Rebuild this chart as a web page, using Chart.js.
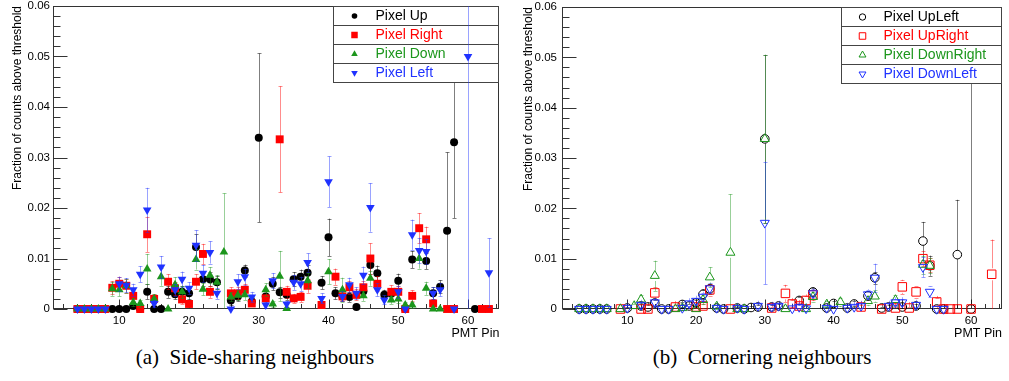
<!DOCTYPE html>
<html>
<head>
<meta charset="utf-8">
<script src="https://cdn.jsdelivr.net/npm/chart.js@4.4.1/dist/chart.umd.min.js"></script>
<style>
  body { margin: 0; background: #fff; }
  #wrap { position: relative; width: 1009px; height: 381px; overflow: hidden; background: #fff; }
  .pane { position: absolute; top: 0; height: 345px; }
  .cap { position: absolute; top: 345px; font-family: 'Liberation Serif', 'Times New Roman', serif; font-size: 21px; white-space: pre; transform: translateX(-50%); color: #000; }
</style>
</head>
<body>
<div id="wrap">
  <div class="pane" style="left:0;width:505px"><canvas id="side" width="505" height="345"></canvas></div>
  <div class="pane" style="left:505px;width:504px"><canvas id="corner" width="504" height="345"></canvas></div>
  <div class="cap" style="left:255px">(a)  Side-sharing neighbours</div>
  <div class="cap" style="left:762px">(b)  Cornering neighbours</div>
</div>
<script>
// ===== axes =====
const xTitle = 'PMT Pin';
const yTitle = 'Fraction of counts above threshold';
const xTicks = [10, 20, 30, 40, 50, 60];
const yTicks = [0, 0.01, 0.02, 0.03, 0.04, 0.05, 0.06];
const yTickLabels = ['0', '0.01', '0.02', '0.03', '0.04', '0.05', '0.06'];

// ===== (a) side-sharing neighbours =====
const sideUpPins = [4,5,6,7,8,9,10,11,12,13,14,15,16,17,18,19,20,21,22,23,24,26,27,28,29,30,31,32,33,34,35,36,37,39,40,41,42,43,44,45,46,47,48,49,50,51,52,54,55,56,57,58,61];
const sideUpVals = [0,0,0,0,0,0,0,0,0.0006,0,0.0034,0,0,0.0034,0.0029,0.0034,0.0031,0.0123,0.0059,0.0059,0.0053,
  0.0017,0.0025,0.0076,0.0015,0.0339,0.0025,0.0050,0.0033,0.0028,0.0059,0.0064,0.0072,
  0.0052,0.0142,0.0031,0.0025,0.0024,0.0004,0.0035,0.0087,0.0071,0.0028,0.0030,0.0056,0,0.0098,
  0.0095,0.0031,0.0044,0.0155,0.0330,0];
const sideUpErrs = [0,0,0,0,0,0,0,0,0.0004,0,0.0015,0,0,0.0012,0.0010,0.0012,0.0011,0.0025,0.0014,0.0014,0.0013,
  0.0009,0.0010,0.0012,0.0008,0.0167,0.0010,0.0013,0.0011,0.0010,0.0014,0.0014,0.0015,
  0.0013,0.0037,0.0012,0.0010,0.0010,0.0004,0.0012,0.0017,0.0015,0.0010,0.0011,0.0014,0,0.0017,
  0.0016,0.0012,0.0013,0.0155,0.0150,0];

const sideRightPins = [4,5,6,7,8,9,10,11,12,13,14,15,17,18,19,20,21,22,23,26,27,28,29,31,33,34,35,36,37,39,41,42,43,44,45,46,47,49,50,51,52,53,54,55,57,58,62,63];
const sideRightVals = [0,0,0,0,0,0.0042,0.0050,0.0046,0.0026,0,0.0148,0.0020,
  0.0054,0.0041,0.0019,0.0010,0.0054,0.0109,0.0034,
  0.0031,0.0031,0.0038,0.0011,0.0021,
  0.0336,0.0034,0.0021,0.0024,0.0046,0.0008,
  0.0064,0.0025,0.0043,0.0028,0.0043,0.0100,0.0050,
  0.0034,0.0034,0,0.0026,0.0160,0.0138,0.0011,0,0,0,0];
const sideRightErrs = [0,0,0,0,0,0.0013,0.0014,0.0014,0.0010,0,0.0035,0.0009,
  0.0015,0.0013,0.0009,0.0006,0.0015,0.0020,0.0012,
  0.0012,0.0012,0.0012,0.0006,0.0009,
  0.0105,0.0012,0.0009,0.0010,0.0014,0.0005,
  0.0016,0.0010,0.0013,0.0011,0.0013,0.0030,0.0015,
  0.0013,0.0012,0,0.0011,0.0030,0.0025,0.0006,0,0,0,0];

const sideDownPins = [4,5,6,7,8,9,10,11,12,13,14,15,16,17,18,19,21,22,23,24,25,26,27,28,31,32,33,34,37,40,42,45,46,49,50,51,52,53,54,55,56];
const sideDownVals = [0,0,0,0,0,0.0040,0.0038,0.0046,0.0013,0.0011,0.0079,0.0020,0.0064,0,0.0048,0.0034,
  0.0098,0.0039,0.0067,0.0053,0.0113,0.0024,0.0027,0.0028,
  0.0038,0.0010,0.0065,0.0001,0.0056,0.0074,0.0038,0.0026,0.0061,
  0.0018,0.0020,0.0008,0.0008,0.0100,0.0041,0,0];
const sideDownErrs = [0,0,0,0,0,0.0014,0.0013,0.0014,0.0008,0.0007,0.0030,0.0009,0.0018,0,0.0015,0.0012,
  0.0020,0.0012,0.0016,0.0014,0.0116,0.0009,0.0010,0.0010,
  0.0013,0.0006,0.0050,0.0003,0.0015,0.0025,0.0024,0.0010,0.0015,
  0.0008,0.0009,0.0006,0.0006,0.0020,0.0013,0,0];

const sideLeftPins = [4,5,6,7,8,10,11,12,13,14,15,16,18,19,20,21,22,23,24,26,27,28,29,31,32,34,35,36,37,39,40,42,43,44,45,46,47,48,50,51,52,53,54,55,56,58,60,63];
const sideLeftVals = [0,0,0,0,0,0.0050,0.0047,0.0038,0.0069,0.0196,0.0011,0.0083,
  0.0038,0.0059,0.0041,0.0126,0.0071,0.0112,0.0031,
  0,0.0054,0.0064,0.0024,0.0008,0.0056,
  0.0010,0.0053,0.0050,0.0092,0.0021,0.0252,
  0.0025,0.0048,0.0031,0.0067,0.0201,0.0038,0.0018,
  0.0034,0,0.0147,0.0116,0.0114,0.0031,0.0038,0,0.0500,0.0072];
const sideLeftErrs = [0,0,0,0,0,0.0014,0.0014,0.0012,0.0016,0.0044,0.0007,0.0022,
  0.0012,0.0015,0.0012,0.0030,0.0017,0.0022,0.0011,
  0,0.0015,0.0016,0.0010,0.0006,0.0015,
  0.0006,0.0015,0.0014,0.0018,0.0010,0.0050,
  0.0010,0.0014,0.0012,0.0017,0.0048,0.0013,0.0009,
  0.0012,0,0.0030,0.0025,0.0025,0.0012,0.0013,0,0.0500,0.0068];

// ===== (b) cornering neighbours =====
const cornerUpLeftPins = [3,4,5,6,7,10,12,13,14,15,16,18,19,20,21,22,23,24,26,27,28,29,30,31,32,35,37,39,40,42,43,45,46,47,48,50,52,53,54,55,56,58,60];
const cornerUpLeftVals = [0,0,0,0,0,0.0002,0.0006,0.0004,0.0012,0,0,
  0.0009,0.0006,0.0012,0.0029,0.0040,0.0002,0,
  0.0002,0,0.0003,0.0004,0.0338,0.0004,0.0006,
  0.0017,0.0034,0.0002,0.0011,0.0002,0.0010,
  0.0026,0.0062,0.0002,0.0004,0.0004,
  0.0006,0.0135,0.0086,0,0,0.0108,0];
const cornerUpLeftErrs = [0,0,0,0,0,0.0002,0.0004,0.0003,0.0006,0,0,
  0.0005,0.0004,0.0006,0.0010,0.0010,0.0002,0,
  0.0002,0,0.0002,0.0003,0.0167,0.0003,0.0004,
  0.0007,0.0008,0.0002,0.0005,0.0002,0.0005,
  0.0009,0.0012,0.0002,0.0003,0.0003,
  0.0004,0.0038,0.0020,0,0,0.0109,0.0700];

const cornerUpRightPins = [9,12,13,14,17,20,21,22,25,31,33,34,35,36,37,44,47,49,50,51,52,53,54,55,56,57,58,60,63];
const cornerUpRightVals = [0,0,0,0.0032,0.0004,0.0004,0.0006,0.0038,0,
  0.0002,0.0031,0.0010,0.0006,0.0017,0.0028,
  0.0004,0,0.0002,0.0044,0.0002,0.0034,0.0100,0.0087,0.0014,0,0,0,0,0.0069];
const cornerUpRightErrs = [0,0,0,0.0012,0.0003,0.0003,0.0004,0.0012,0,
  0.0002,0.0017,0.0007,0.0005,0.0009,0.0010,
  0.0003,0,0.0002,0.0014,0.0002,0.0012,0.0015,0.0014,0.0008,0,0,0,0,0.0069];

const cornerDownRightPins = [3,4,5,6,7,9,11,12,14,17,18,20,21,22,23,25,26,27,30,33,36,37,39,41,45,46,49,53,54];
const cornerDownRightVals = [0,0,0,0,0,0,0.0006,0.0019,0.0066,
  0,0.0002,0,0.0018,0.0063,0.0005,0.0112,0,0,
  0.0338,0,0,0.0024,0.0009,0.0014,0.0016,0.0025,0.0018,0.0088,0.0086];
const cornerDownRightErrs = [0,0,0,0,0,0,0.0004,0.0008,0.0030,
  0,0.0002,0,0.0009,0.0020,0.0003,0.0116,0,0,
  0.0167,0,0,0.0010,0.0006,0.0008,0.0009,0.0012,0.0010,0.0018,0.0015];

const cornerDownLeftPins = [3,4,5,6,7,10,12,14,15,16,18,19,20,21,22,23,24,26,27,29,30,31,32,34,35,36,37,39,40,42,43,44,45,46,48,49,50,52,53,54,55,56];
const cornerDownLeftVals = [0,0,0,0,0,0.0002,0.0008,0.0013,0,0,
  0.0002,0.0011,0.0016,0.0024,0.0041,0.0002,0,
  0.0002,0,0.0006,0.0171,0.0004,0.0006,
  0.0001,0.0004,0.0001,0.0031,0.0002,0,
  0.0002,0.0004,0.0006,0.0029,0.0062,
  0.0006,0.0013,0.0013,0.0008,0.0083,0.0034,0,0];
const cornerDownLeftErrs = [0,0,0,0,0,0.0002,0.0004,0.0006,0,0,
  0.0002,0.0005,0.0006,0.0008,0.0010,0.0002,0,
  0.0002,0,0.0004,0.0122,0.0003,0.0004,
  0.0001,0.0003,0.0001,0.0008,0.0002,0,
  0.0002,0.0003,0.0004,0.0009,0.0028,
  0.0004,0.0006,0.0006,0.0005,0.0020,0.0011,0,0];

// ===== colours =====
const BLACK = '#000000', RED = '#ff0000', GREEN = '#1c961c', BLUE = '#1f32ff';

Chart.defaults.font.family = "'Liberation Sans', Arial, Helvetica, sans-serif";
Chart.defaults.color = '#000';

function points(pins, vals, errs) {
  return pins.map((p, i) => ({ x: p, y: vals[i], e: errs[i] }));
}

function serie(label, pins, vals, errs, st) {
  return {
    label: label,
    data: points(pins, vals, errs),
    showLine: false,
    pointStyle: st.style,
    rotation: st.rot || 0,
    pointRadius: st.r,
    pointHoverRadius: st.r,
    pointBackgroundColor: st.hollow ? 'rgba(0,0,0,0)' : st.color,
    pointBorderColor: st.color,
    pointBorderWidth: st.hollow ? 1 : 0,
    color: st.color,
    barColor: st.bar,
    gap: st.hollow ? st.r : 0,
    hollow: !!st.hollow,
    legendR: st.lr,
    order: st.order,
    clip: 10
  };
}

// ===== legenda dentro do gráfico =====
function drawLegend(chart, opts) {
  const { ctx, chartArea: a } = chart;
  const x0 = opts.left + 0.5, x1 = Math.round(a.right) - 0.5, rowH = 19;
  const top = Math.round(a.top) + 0.5;
  ctx.save();
  ctx.font = "14px 'Liberation Sans', Arial, sans-serif";
  ctx.textBaseline = 'middle';
  ctx.lineWidth = 1;
  chart.data.datasets.forEach((ds, i) => {
    const y0 = top + i * rowH;
    ctx.fillStyle = '#fff';
    ctx.fillRect(x0, y0, x1 - x0, rowH);
    ctx.strokeStyle = '#444';
    ctx.strokeRect(x0, y0, x1 - x0, rowH);
    const my = y0 + rowH / 2;
    ctx.fillStyle = ds.hollow ? 'rgba(0,0,0,0)' : ds.color;
    ctx.strokeStyle = ds.color;
    Chart.helpers.drawPoint(ctx, { pointStyle: ds.pointStyle, rotation: ds.rotation, radius: ds.legendR, borderWidth: ds.hollow ? 1 : 0 }, x0 + 21, my);
    ctx.fillStyle = ds.color;
    ctx.fillText(ds.label, x0 + 42, my + 0.5);
  });
  ctx.restore();
}

// ===== barras de erro (desenhadas antes dos marcadores de cada série) =====
const errorBars = {
  id: 'errorBars',
  beforeDatasetDraw(chart, args, opts) {
    if (opts.legendBefore === args.index) drawLegend(chart, opts);
    const ds = chart.data.datasets[args.index];
    const { ctx, chartArea: a, scales: { x, y } } = chart;
    ctx.save();
    ctx.beginPath();
    ctx.rect(a.left, a.top, a.right - a.left, a.bottom - a.top);
    ctx.clip();
    ctx.strokeStyle = ds.barColor;
    ctx.lineWidth = 1;
    ctx.beginPath();
    ds.data.forEach(d => {
      if (!d.e) return;
      const px = Math.round(x.getPixelForValue(d.x)) + 0.5;
      const pc = y.getPixelForValue(d.y);
      const lo = y.getPixelForValue(d.y - d.e);
      const hi = y.getPixelForValue(d.y + d.e);
      ctx.moveTo(px, lo); ctx.lineTo(px, pc + ds.gap);
      ctx.moveTo(px, pc - ds.gap); ctx.lineTo(px, hi);
      ctx.moveTo(px - 2, Math.round(lo) + 0.5); ctx.lineTo(px + 2, Math.round(lo) + 0.5);
      ctx.moveTo(px - 2, Math.round(hi) + 0.5); ctx.lineTo(px + 2, Math.round(hi) + 0.5);
    });
    ctx.stroke();
    ctx.restore();
  },
  afterDatasetsDraw(chart, args, opts) {
    if (opts.legendBefore == null) drawLegend(chart, opts);
  }
};

// ===== moldura e ticks para dentro (estilo ROOT) =====
const frame = {
  id: 'frame',
  beforeDatasetsDraw(chart) {
    const { ctx, chartArea: a, scales: { x, y } } = chart;
    const L = Math.round(a.left) + 0.5, R = Math.round(a.right) - 0.5;
    const T = Math.round(a.top) + 0.5, B = Math.round(a.bottom) - 0.5;
    ctx.save();
    ctx.strokeStyle = '#333';
    ctx.lineWidth = 1;
    ctx.strokeRect(L, T, R - L, B - T);
    ctx.beginPath();
    for (let k = 0; k <= 30; k++) {
      const py = Math.round(y.getPixelForValue(k * 0.002)) + 0.5;
      const len = k % 5 === 0 ? 14 : 7;
      ctx.moveTo(L, py); ctx.lineTo(L + len, py);
    }
    for (let v = 2; v <= 64; v += 2) {
      const px = Math.round(x.getPixelForValue(v)) + 0.5;
      const len = v % 10 === 0 ? 9 : 4.5;
      ctx.moveTo(px, B); ctx.lineTo(px, B - len);
    }
    ctx.stroke();
    ctx.restore();
  }
};

function makeChart(id, box, datasets) {
  return new Chart(document.getElementById(id), {
    type: 'scatter',
    data: { datasets: datasets },
    plugins: [frame, errorBars],
    options: {
      responsive: false,
      animation: false,
      devicePixelRatio: 1,
      layout: { padding: { top: 6, right: box.width - box.right, bottom: 0, left: 0 } },
      plugins: {
        legend: { display: false },
        tooltip: { enabled: false },
        errorBars: { left: box.legendLeft, legendBefore: box.legendBefore }
      },
      scales: {
        x: {
          type: 'linear', min: 0.5, max: 64.5,
          grid: { display: false, drawTicks: false },
          border: { display: false },
          afterBuildTicks: s => { s.ticks = xTicks.map(v => ({ value: v })); },
          afterFit: s => { s.height = 36; s.paddingLeft = 0; s.paddingRight = 0; },
          ticks: { font: { size: 11.5 }, padding: 5, maxRotation: 0, autoSkip: false },
          title: { display: true, text: xTitle, align: 'end', font: { size: 12.5 }, padding: { top: 0, bottom: 4 } }
        },
        y: {
          type: 'linear', min: 0, max: 0.06,
          grid: { display: false, drawTicks: false },
          border: { display: false },
          afterBuildTicks: s => { s.ticks = yTicks.map(v => ({ value: v })); },
          afterFit: s => { s.width = box.left; s.paddingTop = 0; s.paddingBottom = 0; },
          ticks: { font: { size: 11.5 }, padding: box.tickPad, callback: (v, i) => yTickLabels[i] },
          title: { display: true, text: yTitle, align: 'end', font: { size: 12 }, padding: { top: box.titlePad, bottom: 0 } }
        }
      }
    }
  });
}

makeChart('side', { width: 505, left: 53, right: 501, tickPad: 3, titlePad: 10, legendLeft: 333, legendBefore: 3 }, [
  serie('Pixel Up', sideUpPins, sideUpVals, sideUpErrs, { style: 'circle', r: 4, lr: 2.8, color: BLACK, bar: 'rgba(0,0,0,0.5)', order: 4 }),
  serie('Pixel Right', sideRightPins, sideRightVals, sideRightErrs, { style: 'rect', r: 5.6, lr: 4.6, color: RED, bar: 'rgba(255,0,0,0.45)', order: 3 }),
  serie('Pixel Down', sideDownPins, sideDownVals, sideDownErrs, { style: 'triangle', r: 5, lr: 3.8, color: GREEN, bar: 'rgba(28,150,28,0.45)', order: 2 }),
  serie('Pixel Left', sideLeftPins, sideLeftVals, sideLeftErrs, { style: 'triangle', rot: 180, r: 5, lr: 3.8, color: BLUE, bar: 'rgba(31,50,255,0.45)', order: 1 })
]);

makeChart('corner', { width: 504, left: 57, right: 502, tickPad: 5, titlePad: 16, legendLeft: 336, legendBefore: null }, [
  serie('Pixel UpLeft', cornerUpLeftPins, cornerUpLeftVals, cornerUpLeftErrs, { style: 'circle', hollow: true, r: 4.3, lr: 3.2, color: BLACK, bar: 'rgba(0,0,0,0.5)', order: 4 }),
  serie('Pixel UpRight', cornerUpRightPins, cornerUpRightVals, cornerUpRightErrs, { style: 'rect', hollow: true, r: 6, lr: 4.6, color: RED, bar: 'rgba(255,0,0,0.45)', order: 3 }),
  serie('Pixel DownRight', cornerDownRightPins, cornerDownRightVals, cornerDownRightErrs, { style: 'triangle', hollow: true, r: 5.2, lr: 4, color: GREEN, bar: 'rgba(28,150,28,0.45)', order: 2 }),
  serie('Pixel DownLeft', cornerDownLeftPins, cornerDownLeftVals, cornerDownLeftErrs, { style: 'triangle', rot: 180, hollow: true, r: 5.2, lr: 4, color: BLUE, bar: 'rgba(31,50,255,0.45)', order: 1 })
]);
</script>
</body>
</html>
